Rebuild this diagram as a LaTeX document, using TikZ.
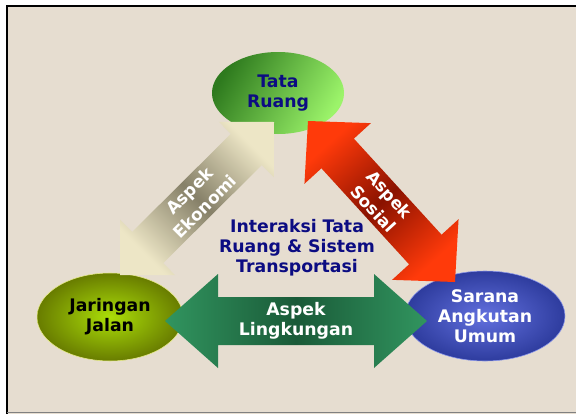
\documentclass[tikz,border=0pt]{standalone}
\usepackage{fontspec}
\setmainfont{DejaVu Sans}
\usetikzlibrary{calc, shapes.geometric}

\definecolor{paper}{HTML}{E6DDD0}
\definecolor{navytext}{HTML}{0C0C82}
\definecolor{ruangdark}{HTML}{2E7A1E}
\definecolor{ruanglight}{HTML}{9CF46A}
\definecolor{jalanin}{HTML}{ABDE08}
\definecolor{jalanout}{HTML}{687C00}
\definecolor{jalanrim}{HTML}{E8EC8A}
\definecolor{umumin}{HTML}{6270DE}
\definecolor{umumout}{HTML}{2E3C9E}
\definecolor{umumrim}{HTML}{8C98EC}
\definecolor{ekoend}{HTML}{EDE6C6}
\definecolor{ekomid}{HTML}{868068}
\definecolor{sosend}{HTML}{FF3A0A}
\definecolor{sosmid}{HTML}{8A1200}
\definecolor{linend}{HTML}{31955F}
\definecolor{linmid}{HTML}{1A5A38}

% block arrow with two heads: style, tip, tip, shaft half width, head half width, head length
\newcommand{\blockarrow}[6]{%
  \coordinate (ba1) at ($(#2)!#6!(#3)$);
  \coordinate (ba2) at ($(#3)!#6!(#2)$);
  \path[#1] (#2) -- ($(ba1)!#5!90:(#3)$) -- ($(ba1)!#4!90:(#3)$)
    -- ($(ba2)!#4!-90:(#2)$) -- ($(ba2)!#5!-90:(#2)$) -- (#3)
    -- ($(ba2)!#5!90:(#2)$) -- ($(ba2)!#4!90:(#2)$)
    -- ($(ba1)!#4!-90:(#3)$) -- ($(ba1)!#5!-90:(#3)$) -- cycle;
}

\tikzset{
  hub/.style={ellipse, inner sep=0pt, align=center},
  arrowtext/.style={text=white, align=center, inner sep=0pt,
                    font=\bfseries\fontsize{12}{15.5}\selectfont},
  ekoshade/.style={left color=ekoend, right color=ekoend, middle color=ekomid, shading angle=-45},
  sosshade/.style={left color=sosend, right color=sosend, middle color=sosmid, shading angle=42},
  linshade/.style={left color=linend, right color=linend, middle color=linmid, shading angle=90}
}

\begin{document}
\begin{tikzpicture}[font=\bfseries\fontsize{12.3}{14.3}\selectfont]

\useasboundingbox (0,0) rectangle (14.4,10.35);
\fill[white] (0,0) rectangle (14.4,10.35);
\fill[paper] (0.175,0) rectangle (14.4,10.19);
\draw[black, line width=1.4pt] (0.175,0) -- (0.175,10.19) -- (14.4,10.19);
\draw[gray, line width=0.5pt] (0.175,0.03) -- (14.4,0.03);

%-- the three parts
\node[hub, minimum width=3.3cm, minimum height=2.05cm,
      left color=ruangdark, right color=ruanglight, shading angle=60,
      text=navytext] (ruang) at (6.95,8.025) {Tata\\Ruang};
\node[hub, minimum width=3.65cm, minimum height=2.2cm,
      inner color=jalanin, outer color=jalanout, draw=jalanrim,
      text=black] (jalan) at (2.75,2.425) {Jaringan\\Jalan};
\node[hub, minimum width=4.0cm, minimum height=2.25cm,
      inner color=umumin, outer color=umumout, draw=umumrim,
      text=white] (umum) at (12.125,2.45) {Sarana\\Angkutan\\Umum};

%-- arrow tips
\coordinate (ekoA) at (3.0,3.475);
\coordinate (ekoB) at (6.85,7.3);
\coordinate (sosA) at (7.7,7.325);
\coordinate (sosB) at (11.375,3.3);
\coordinate (linA) at (4.125,2.325);
\coordinate (linB) at (10.675,2.325);

\blockarrow{ekoshade}{ekoA}{ekoB}{0.55cm}{0.975cm}{0.975cm}
\blockarrow{sosshade}{sosA}{sosB}{0.55cm}{1.125cm}{1.1cm}
\blockarrow{linshade}{linA}{linB}{0.6cm}{1.175cm}{1.325cm}

\node[arrowtext, rotate=45] (ekolbl) at ($(ekoA)!0.5!(ekoB)$) {Aspek\\Ekonomi};
\node[arrowtext, rotate=-47.6] (soslbl) at ($(sosA)!0.5!(sosB)$) {Aspek\\Sosial};
\node[arrowtext, font=\bfseries\fontsize{12.3}{14.3}\selectfont] (linlbl)
  at ($(linA)!0.5!(linB)$) {Aspek\\Lingkungan};

%-- centre
\node[text=navytext, align=center] (core) at (7.425,4.15)
  {Interaksi Tata\\Ruang \& Sistem\\Transportasi};

\end{tikzpicture}
\end{document}
